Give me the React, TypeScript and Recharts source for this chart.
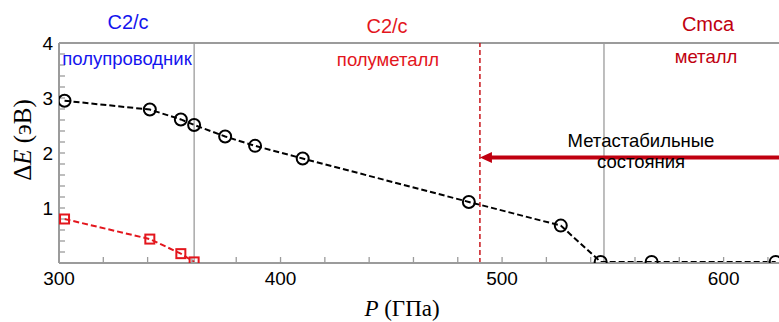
import React from 'react';
import { LineChart, Line, XAxis, YAxis, ReferenceLine } from 'recharts';

// давление (ГПа) и ΔE (эВ), кружки — верхняя кривая, квадраты — нижняя
const pressureCircles = [302.5, 341, 355, 361, 375, 388.5, 410, 485, 526.5, 544.5, 567.5, 623.5];
const gapCircles = [2.95, 2.79, 2.61, 2.51, 2.3, 2.13, 1.9, 1.11, 0.68, 0.02, 0.02, 0.02];
const pressureSquares = [302.5, 341, 355, 361];
const gapSquares = [0.8, 0.435, 0.17, 0.02];

const pressureTicks = [300, 320, 340, 360, 380, 400, 420, 440, 460, 480, 500, 520, 540, 560, 580, 600, 620];
const pressureLabels = [300, 400, 500, 600];
const gapTicks = [0, 0.2, 0.4, 0.6, 0.8, 1, 1.2, 1.4, 1.6, 1.8, 2, 2.2, 2.4, 2.6, 2.8, 3, 3.2, 3.4, 3.6, 3.8, 4];
const gapLabels = [1, 2, 3, 4];

// границы фаз и область метастабильности
const phaseBounds = [361, 546];
const metastableEdge = 490;
const arrowLevel = 1.92;
const arrowStart = 625;

const circles = pressureCircles.map((p, i) => ({ p, gap: gapCircles[i] }));
const squares = pressureSquares.map((p, i) => ({ p, gap: gapSquares[i] }));

const SANS = '"Liberation Sans", Arial, sans-serif';
const SERIF = '"Liberation Serif", "Times New Roman", serif';
const AXIS_GRAY = '#9b9b9b';
const BLUE = '#1414ee';
const RED = '#e3161d';
const DARK_RED = '#c00010';

const CircleDot = (props: any) => {
  const { cx, cy, index } = props;
  if (cx == null || cy == null) return <g key={`c-${index}`} />;
  return <circle key={`c-${index}`} cx={cx} cy={cy} r={6} fill="none" stroke="#000" strokeWidth={2} />;
};

const SquareDot = (props: any) => {
  const { cx, cy, index } = props;
  if (cx == null || cy == null) return <g key={`s-${index}`} />;
  return (
    <rect key={`s-${index}`} x={cx - 4.5} y={cy - 4.5} width={9} height={9} fill="none" stroke={RED} strokeWidth={2} />
  );
};

const ArrowShape = (props: any) => {
  const { x1, y1, x2, y2 } = props;
  if (x1 == null || x2 == null) return <g />;
  const tip = Math.min(x1, x2);
  const tail = Math.max(x1, x2);
  const y = (y1 + y2) / 2;
  return (
    <g>
      <line x1={tail} y1={y} x2={tip + 8} y2={y} stroke={DARK_RED} strokeWidth={4} />
      <polygon points={`${tip},${y} ${tip + 12},${y - 5.5} ${tip + 12},${y + 5.5}`} fill={DARK_RED} />
    </g>
  );
};

const tickFont = { fill: '#000', fontSize: 19, fontFamily: SANS };

export default function App() {
  return (
    <div style={{ position: 'absolute', left: 0, top: 0, width: 779, height: 322, background: '#fff' }}>
      <LineChart width={779} height={322} margin={{ top: 43, right: 0, bottom: 29, left: 0 }}>
        <XAxis
          type="number"
          dataKey="p"
          domain={[300, 625]}
          allowDataOverflow
          ticks={pressureTicks}
          interval={0}
          tickFormatter={(v: number) => (pressureLabels.includes(v) ? String(v) : '')}
          height={30}
          tickSize={-6}
          tickMargin={15}
          tick={tickFont}
          tickLine={{ stroke: AXIS_GRAY, strokeWidth: 1.3 }}
          axisLine={{ stroke: AXIS_GRAY, strokeWidth: 2 }}
        />
        <YAxis
          type="number"
          domain={[0, 4]}
          allowDataOverflow
          ticks={gapTicks}
          interval={0}
          tickFormatter={(v: number) => (gapLabels.includes(v) ? String(v) : '')}
          width={59}
          tickSize={-6}
          tickMargin={12}
          tick={tickFont}
          tickLine={{ stroke: AXIS_GRAY, strokeWidth: 1.3 }}
          axisLine={{ stroke: AXIS_GRAY, strokeWidth: 2 }}
        />
        <ReferenceLine y={4} stroke={AXIS_GRAY} strokeWidth={2} />
        {phaseBounds.map((x) => (
          <ReferenceLine key={x} x={x} stroke={AXIS_GRAY} strokeWidth={1.3} />
        ))}
        <ReferenceLine x={metastableEdge} stroke="#c8151b" strokeWidth={1.5} strokeDasharray="5 3" />
        <ReferenceLine
          segment={[
            { x: arrowStart, y: arrowLevel },
            { x: metastableEdge, y: arrowLevel },
          ]}
          ifOverflow="visible"
          shape={ArrowShape}
        />
        <Line
          data={squares}
          dataKey="gap"
          stroke={RED}
          strokeWidth={2}
          strokeDasharray="6 3"
          dot={SquareDot}
          activeDot={false}
          isAnimationActive={false}
        />
        <Line
          data={circles}
          dataKey="gap"
          stroke="#000"
          strokeWidth={2}
          strokeDasharray="6 3"
          dot={CircleDot}
          activeDot={false}
          isAnimationActive={false}
        />
      </LineChart>
      <svg
        width={779}
        height={322}
        style={{ position: 'absolute', left: 0, top: 0, pointerEvents: 'none' }}
      >
        <g fontFamily={SANS} textAnchor="middle">
          <text x={128} y={29} fontSize={20} fill={BLUE}>C2/c</text>
          <text x={387} y={33} fontSize={20} fill={RED}>C2/c</text>
          <text x={708} y={31} fontSize={20} fill={DARK_RED}>Cmca</text>
          <text x={127} y={65} fontSize={18.5} fill={BLUE}>полупроводник</text>
          <text x={388} y={66} fontSize={18.5} fill={RED}>полуметалл</text>
          <text x={706} y={63} fontSize={18.5} fill={DARK_RED}>металл</text>
          <text x={641} y={147} fontSize={18.5} fill="#000">Метастабильные</text>
          <text x={641} y={168} fontSize={18.5} fill="#000">состояния</text>
        </g>
        <text x={402} y={316} fontSize={23} fontFamily={SERIF} textAnchor="middle" fill="#000">
          <tspan fontStyle="italic">P</tspan> (ГПа)
        </text>
        <text
          transform="translate(31,140) rotate(-90)"
          fontSize={25}
          fontFamily={SERIF}
          textAnchor="middle"
          fill="#000"
        >
          Δ<tspan fontStyle="italic">E</tspan> (эВ)
        </text>
      </svg>
    </div>
  );
}
